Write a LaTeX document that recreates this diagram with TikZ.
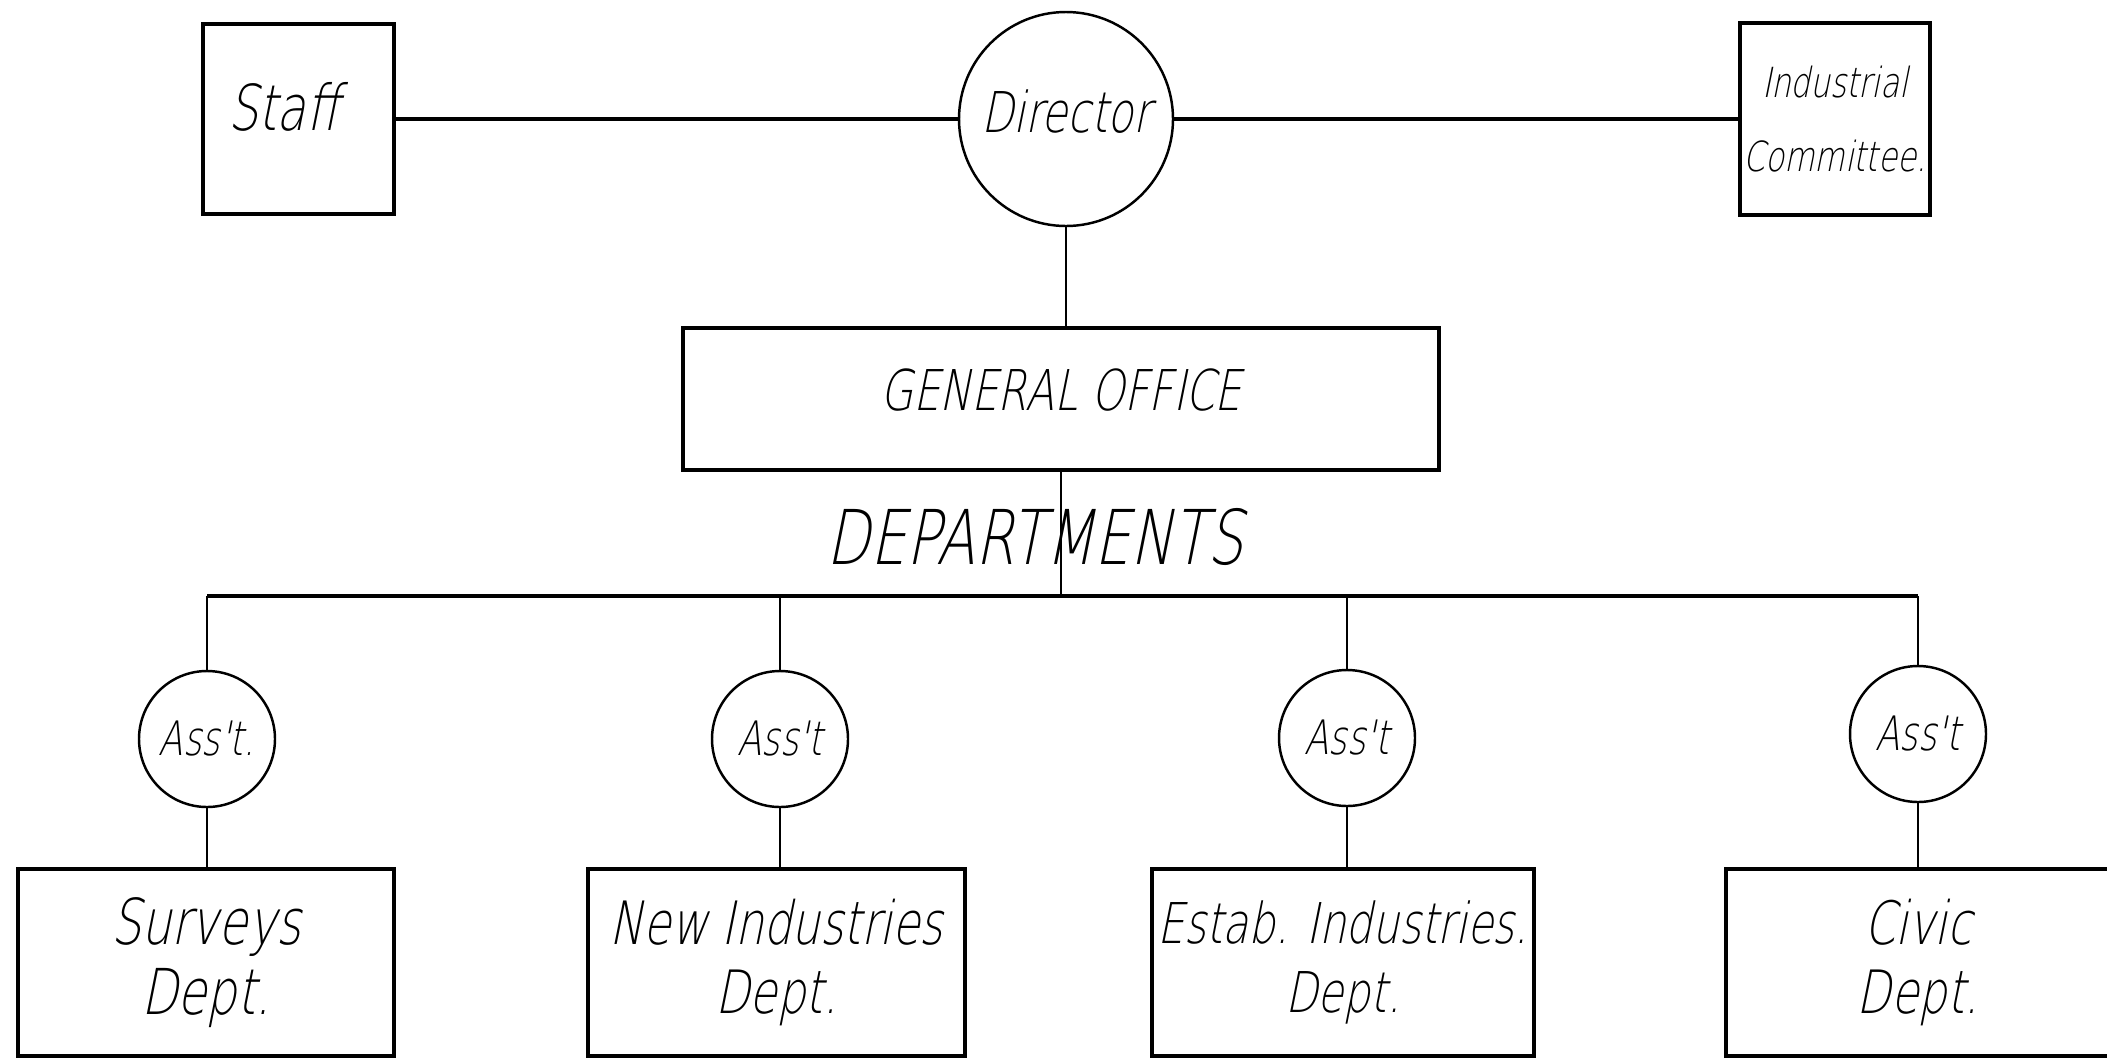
\documentclass[tikz,border=0pt]{standalone}
\usepackage{fontspec}
\newfontfamily\letterfont{DejaVu Sans ExtraLight}[FakeSlant=0.2, FakeStretch=0.75]
\usepackage{tikz}
\usetikzlibrary{positioning, calc}

\begin{document}
\begin{tikzpicture}[
  box/.style={rectangle, draw=black, line width=1.1pt, inner sep=1pt,
              align=center, text=black},
  chief/.style={circle, draw=black, line width=0.7pt, inner sep=0pt,
                minimum size=2.14cm, font=\letterfont\fontsize{16}{19}\selectfont},
  asst/.style={circle, draw=black, line width=0.7pt, inner sep=0pt,
               minimum size=1.36cm, font=\letterfont\fontsize{13.5}{15}\selectfont},
  dept/.style={box, minimum width=3.8cm, minimum height=1.87cm,
               font=\letterfont\fontsize{17}{19.5}\selectfont},
  link/.style={draw=black, line width=0.6pt},
  tie/.style={draw=black, line width=1pt}]

  \useasboundingbox (0,0) rectangle (21.07,-10.59);

  % ── Top row : Staff / Director / Committee ─────────────────────
  \node[chief, text depth=0.16cm] (director) at (10.66,-1.19) {Director};
  \node[box, minimum width=1.91cm, minimum height=1.9cm, text depth=0.26cm,
        font=\letterfont\fontsize{18}{21}\selectfont] (staff) at (2.985,-1.19)
        {Staff\hspace{0.3cm}};
  \node[box, minimum width=1.90cm, minimum height=1.92cm, inner sep=0pt,
        font=\letterfont\fontsize{11.8}{21}\selectfont] (committee) at (18.35,-1.19)
        {Industrial\\Committee.};

  % ── General office ─────────────────────────────────────────────
  \node[box, minimum width=7.56cm, minimum height=1.42cm, text depth=0.18cm,
        font=\letterfont\fontsize{16}{19}\selectfont] (office) at (10.61,-3.99)
        {GENERAL OFFICE};
  \node[font=\letterfont\fontsize{21.5}{24}\selectfont] (deptlabel) at (10.35,-5.37)
        {DEPARTMENTS};
  \coordinate (bar) at (10.62,-5.96);

  % ── Assistants ─────────────────────────────────────────────────
  \node[asst] (asst1) at (2.07,-7.39)  {Ass't.};
  \node[asst] (asst2) at (7.80,-7.39)  {Ass't};
  \node[asst] (asst3) at (13.47,-7.38) {Ass't};
  \node[asst] (asst4) at (19.18,-7.34) {Ass't};

  % ── Departments ────────────────────────────────────────────────
  \node[dept, minimum width=3.76cm, font=\letterfont\fontsize{18}{20}\selectfont]
        (surveys) at (2.06,-9.625) {Surveys\\Dept.};
  \node[dept, minimum width=3.77cm] (newind) at (7.765,-9.625) {New Industries\\Dept.};
  \node[dept, minimum width=3.82cm, font=\letterfont\fontsize{16}{19.5}\selectfont]
        (estab) at (13.43,-9.625) {Estab. Industries.\\Dept.};
  \node[dept, minimum width=3.84cm] (civic) at (19.18,-9.625) {Civic\\Dept.};

  % ── Connectors ─────────────────────────────────────────────────
  \draw[tie] (staff) -- (director);
  \draw[tie] (director) -- (committee);
  \draw[link] (director) -- (director |- office.north);
  \draw[link] (office.south) -- (office.south |- bar);
  \draw[tie] (asst1.north |- bar) -- (asst4.north |- bar);
  \draw[link] (asst1.north |- bar) -- (asst1.north);
  \draw[link] (asst2.north |- bar) -- (asst2.north);
  \draw[link] (asst3.north |- bar) -- (asst3.north);
  \draw[link] (asst4.north |- bar) -- (asst4.north);
  \draw[link] (asst1.south) -- (asst1.south |- surveys.north);
  \draw[link] (asst2.south) -- (asst2.south |- newind.north);
  \draw[link] (asst3.south) -- (asst3.south |- estab.north);
  \draw[link] (asst4.south) -- (asst4.south |- civic.north);

\end{tikzpicture}
\end{document}
